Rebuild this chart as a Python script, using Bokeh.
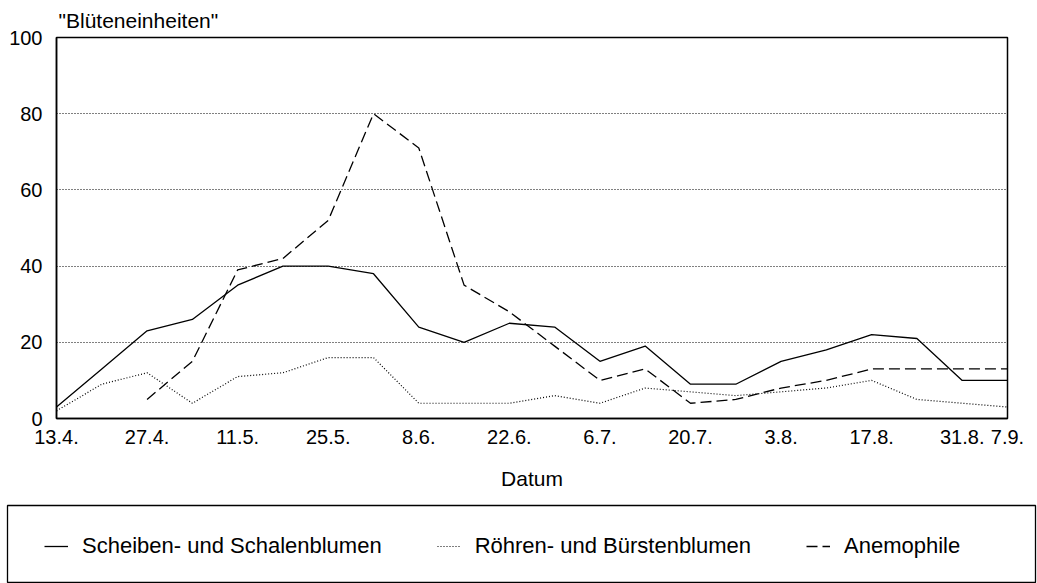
import math
from bokeh.plotting import figure
from bokeh.layouts import column, row
from bokeh.models import FixedTicker, Legend, LegendItem, ColumnDataSource
from bokeh.embed import file_html
from bokeh.resources import INLINE

dates = ["13.4.", "20.4.", "27.4.", "4.5.", "11.5.", "18.5.", "25.5.", "1.6.",
         "8.6.", "15.6.", "22.6.", "29.6.", "6.7.", "13.7.", "20.7.", "27.7.",
         "3.8.", "10.8.", "17.8.", "24.8.", "31.8.", "7.9."]
scheiben = [3, 13, 23, 26, 35, 40, 40, 38, 24, 20, 25, 24, 15, 19, 9, 9, 15, 18, 22, 21, 10, 10]
roehren = [2, 9, 12, 4, 11, 12, 16, 16, 4, 4, 4, 6, 4, 8, 7, 6, 7, 8, 10, 5, 4, 3]
anemophile = [math.nan, math.nan, 5, 15, 39, 42, 52, 80, 71, 35, 28, 19, 10, 13, 4, 5, 8, 10, 13, 13, 13, 13]
series_names = ["Scheiben- und Schalenblumen", "Röhren- und Bürstenblumen", "Anemophile"]
tick_idx = [0, 2, 4, 6, 8, 10, 12, 14, 16, 18, 20, 21]
y_ticks = [0, 20, 40, 60, 80, 100]

FONT = "Liberation Sans"
x = list(range(len(dates)))
src = ColumnDataSource(dict(x=x, s=scheiben, r=roehren, a=anemophile))

styles = [dict(line_color="black", line_width=1.3),
          dict(line_color="black", line_width=1.2, line_dash="1 2"),
          dict(line_color="black", line_width=1.3, line_dash="11 5")]
cols = ["s", "r", "a"]

# ---- main chart ----
p = figure(width=1037, height=500, output_backend="svg", toolbar_location=None,
           x_range=(0, len(dates) - 1), y_range=(0, 100),
           min_border_left=56, min_border_right=30, min_border_top=37, min_border_bottom=82,
           title='"Blüteneinheiten"')
p.title.text_font = FONT
p.title.text_font_size = "21px"
p.title.text_font_style = "normal"
p.title.text_color = "black"
p.title.align = "left"
p.title.offset = 2
p.title.standoff = 11

p.outline_line_color = "black"
p.outline_line_width = 1.5
p.background_fill_color = "white"
p.border_fill_color = "white"

p.xgrid.visible = False
p.ygrid.ticker = FixedTicker(ticks=[20, 40, 60, 80])
p.ygrid.grid_line_color = "black"
p.ygrid.grid_line_dash = "1 2"
p.ygrid.grid_line_width = 1

for ax in (p.xaxis[0], p.yaxis[0]):
    ax.axis_line_color = "black"
    ax.axis_line_width = 1.5
    ax.major_tick_line_color = None
    ax.minor_tick_line_color = None
    ax.major_tick_in = 0
    ax.major_tick_out = 0
    ax.minor_tick_in = 0
    ax.minor_tick_out = 0
    ax.major_label_text_font = FONT
    ax.major_label_text_font_size = "20px"
    ax.major_label_text_color = "black"

p.xaxis.ticker = FixedTicker(ticks=tick_idx)
p.xaxis.major_label_overrides = {i: dates[i] for i in tick_idx}
p.xaxis.major_label_standoff = 11
p.xaxis.axis_label = "Datum"
p.xaxis.axis_label_text_font = FONT
p.xaxis.axis_label_text_font_size = "21px"
p.xaxis.axis_label_text_font_style = "normal"
p.xaxis.axis_label_text_color = "black"
p.xaxis.axis_label_standoff = 20

p.yaxis.ticker = FixedTicker(ticks=y_ticks)
p.yaxis.major_label_standoff = 14

for c, st in zip(cols, styles):
    p.line("x", c, source=src, **st)

# ---- legend box (separate panel below the chart) ----
p2 = figure(width=1037, height=83, output_backend="svg", toolbar_location=None,
            x_range=(-100, -99), y_range=(-100, -99),
            x_axis_location=None, y_axis_location=None,
            min_border_left=7, min_border_right=2, min_border_top=5, min_border_bottom=1)
p2.grid.visible = False
p2.outline_line_color = "black"
p2.outline_line_width = 1.3
p2.border_fill_color = "white"
p2.background_fill_color = "white"

items = []
for name, c, st in zip(series_names, cols, styles):
    r = p2.line("x", c, source=src, **st)
    items.append(LegendItem(label=name, renderers=[r]))

legend = Legend(items=items, orientation="horizontal", location=(37, 23),
                padding=0, spacing=55, glyph_width=24, label_standoff=14,
                label_text_font=FONT, label_text_font_size="22px", label_text_color="black",
                border_line_color=None, background_fill_alpha=0.0, margin=0)
p2.add_layout(legend, "center")

layout = column(p, row(p2, spacing=0), spacing=0)
open("out.html", "w").write(file_html(layout, INLINE))
